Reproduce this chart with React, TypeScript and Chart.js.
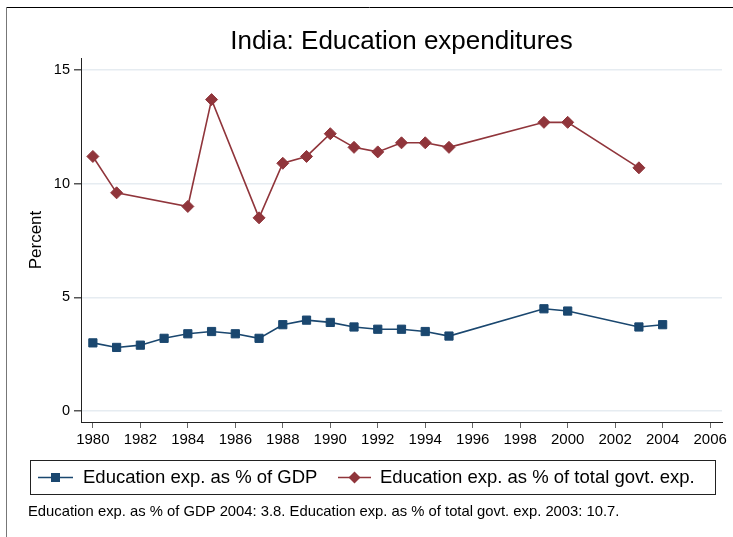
import React, { useEffect, useRef } from 'react';
import { Chart, registerables } from 'chart.js';

Chart.register(...registerables);

const gdpYears = [1980, 1981, 1982, 1983, 1984, 1985, 1986, 1987, 1988, 1989, 1990, 1991, 1992, 1993, 1994, 1995, 1999, 2000, 2003, 2004];
const gdpValues = [3.0, 2.8, 2.9, 3.2, 3.4, 3.5, 3.4, 3.2, 3.8, 4.0, 3.9, 3.7, 3.6, 3.6, 3.5, 3.3, 4.5, 4.4, 3.7, 3.8];
const govYears = [1980, 1981, 1984, 1985, 1987, 1988, 1989, 1990, 1991, 1992, 1993, 1994, 1995, 1999, 2000, 2003];
const govValues = [11.2, 9.6, 9.0, 13.7, 8.5, 10.9, 11.2, 12.2, 11.6, 11.4, 11.8, 11.8, 11.6, 12.7, 12.7, 10.7];
const xTickValues = [1980, 1982, 1984, 1986, 1988, 1990, 1992, 1994, 1996, 1998, 2000, 2002, 2004, 2006];
const yTickValues = [0, 5, 10, 15];

const TITLE = 'India: Education expenditures';
const Y_LABEL = 'Percent';
const GDP_LABEL = 'Education exp. as % of GDP';
const GOV_LABEL = 'Education exp. as % of total govt. exp.';
const NOTE = 'Education exp. as % of GDP 2004: 3.8. Education exp. as % of total govt. exp. 2003: 10.7.';

const BLUE = '#1a476f';
const RED = '#90353b';
const FONT = '"Liberation Sans", Arial, sans-serif';

const decorPlugin = {
  id: 'decor',
  afterDraw(chart: any) {
    const ctx = chart.ctx as CanvasRenderingContext2D;
    const area = chart.chartArea;
    ctx.save();
    // outer frame (top and left)
    ctx.strokeStyle = '#000';
    ctx.lineWidth = 1;
    ctx.beginPath();
    ctx.moveTo(6, 7.5);
    ctx.lineTo(733, 7.5);
    ctx.stroke();
    ctx.strokeStyle = '#777';
    ctx.beginPath();
    ctx.moveTo(6.5, 7);
    ctx.lineTo(6.5, 537);
    ctx.stroke();

    // title
    ctx.fillStyle = '#000';
    ctx.font = `26px ${FONT}`;
    ctx.textAlign = 'center';
    ctx.textBaseline = 'middle';
    ctx.fillText(TITLE, (area.left + area.right) / 2, 42);

    // y label
    ctx.save();
    ctx.translate(36, (area.top + area.bottom) / 2);
    ctx.rotate(-Math.PI / 2);
    ctx.font = `17px ${FONT}`;
    ctx.fillText(Y_LABEL, 0, 0);
    ctx.restore();

    // legend box
    ctx.strokeStyle = '#222';
    ctx.lineWidth = 1;
    ctx.strokeRect(30.5, 460.5, 685, 34);
    const ly = 477.5;
    ctx.font = `18.5px ${FONT}`;
    ctx.textAlign = 'left';
    // entry 1
    ctx.strokeStyle = BLUE;
    ctx.lineWidth = 1.6;
    ctx.beginPath();
    ctx.moveTo(38, ly);
    ctx.lineTo(73, ly);
    ctx.stroke();
    ctx.fillStyle = BLUE;
    ctx.fillRect(55.5 - 4.5, ly - 4.5, 9, 9);
    ctx.fillStyle = '#000';
    ctx.fillText(GDP_LABEL, 83, ly);
    // entry 2
    ctx.strokeStyle = RED;
    ctx.beginPath();
    ctx.moveTo(338, ly);
    ctx.lineTo(371, ly);
    ctx.stroke();
    ctx.fillStyle = RED;
    ctx.beginPath();
    ctx.moveTo(354.5 - 6, ly);
    ctx.lineTo(354.5, ly - 6);
    ctx.lineTo(354.5 + 6, ly);
    ctx.lineTo(354.5, ly + 6);
    ctx.closePath();
    ctx.fill();
    ctx.fillStyle = '#000';
    ctx.fillText(GOV_LABEL, 380, ly);

    // note
    ctx.font = `14.8px ${FONT}`;
    ctx.fillText(NOTE, 28, 512);
    ctx.restore();
  },
};

export default function App() {
  const ref = useRef<HTMLCanvasElement | null>(null);
  useEffect(() => {
    if (!ref.current) return;
    const chart = new Chart(ref.current, {
      type: 'line',
      data: {
        datasets: [
          {
            label: GDP_LABEL,
            data: gdpYears.map((x, i) => ({ x, y: gdpValues[i] })),
            borderColor: BLUE,
            backgroundColor: BLUE,
            borderWidth: 1.6,
            pointStyle: 'rect',
            pointRadius: 5.8,
            pointBorderWidth: 1,
            pointBorderColor: BLUE,
            pointBackgroundColor: BLUE,
            tension: 0,
          },
          {
            label: GOV_LABEL,
            data: govYears.map((x, i) => ({ x, y: govValues[i] })),
            borderColor: RED,
            backgroundColor: RED,
            borderWidth: 1.6,
            pointStyle: 'rectRot',
            pointRadius: 6,
            pointBorderWidth: 1,
            pointBorderColor: RED,
            pointBackgroundColor: RED,
            tension: 0,
          },
        ],
      },
      options: {
        responsive: false,
        animation: false,
        devicePixelRatio: 1,
        layout: { padding: { left: 0, top: 58, right: 11, bottom: 0 } },
        plugins: {
          legend: { display: false },
          title: { display: false },
          tooltip: { enabled: false },
        },
        scales: {
          x: {
            type: 'linear',
            min: 1979.5,
            max: 2006.5,
            afterBuildTicks: (axis: any) => {
              axis.ticks = xTickValues.map((v) => ({ value: v }));
            },
            afterFit: (s: any) => {
              s.height = 115;
            },
            grid: {
              drawOnChartArea: false,
              drawTicks: true,
              tickLength: 6,
              tickColor: '#666',
              color: '#666',
            },
            border: { display: true, color: '#222', width: 1 },
            ticks: {
              color: '#000',
              padding: 3,
              maxRotation: 0,
              autoSkip: false,
              font: { family: FONT, size: 15 },
              callback: (v: any) => String(v),
            },
          },
          y: {
            type: 'linear',
            min: -0.48,
            max: 15.53,
            afterBuildTicks: (axis: any) => {
              axis.ticks = yTickValues.map((v) => ({ value: v }));
            },
            afterFit: (s: any) => {
              s.width = 81;
            },
            grid: {
              drawOnChartArea: true,
              drawTicks: true,
              tickLength: 7,
              color: '#e6ecf1',
              tickColor: '#555',
              lineWidth: 1.5,
            },
            border: { display: true, color: '#222', width: 1 },
            ticks: {
              color: '#000',
              padding: 4,
              font: { family: FONT, size: 14.5 },
              callback: (v: any) => String(v),
            },
          },
        },
      },
      plugins: [decorPlugin],
    });
    return () => chart.destroy();
  }, []);
  return (
    <div style={{ position: 'fixed', left: 0, top: 0, width: 733, height: 537, background: '#fff' }}>
      <canvas ref={ref} width={733} height={537} style={{ display: 'block' }} />
    </div>
  );
}
